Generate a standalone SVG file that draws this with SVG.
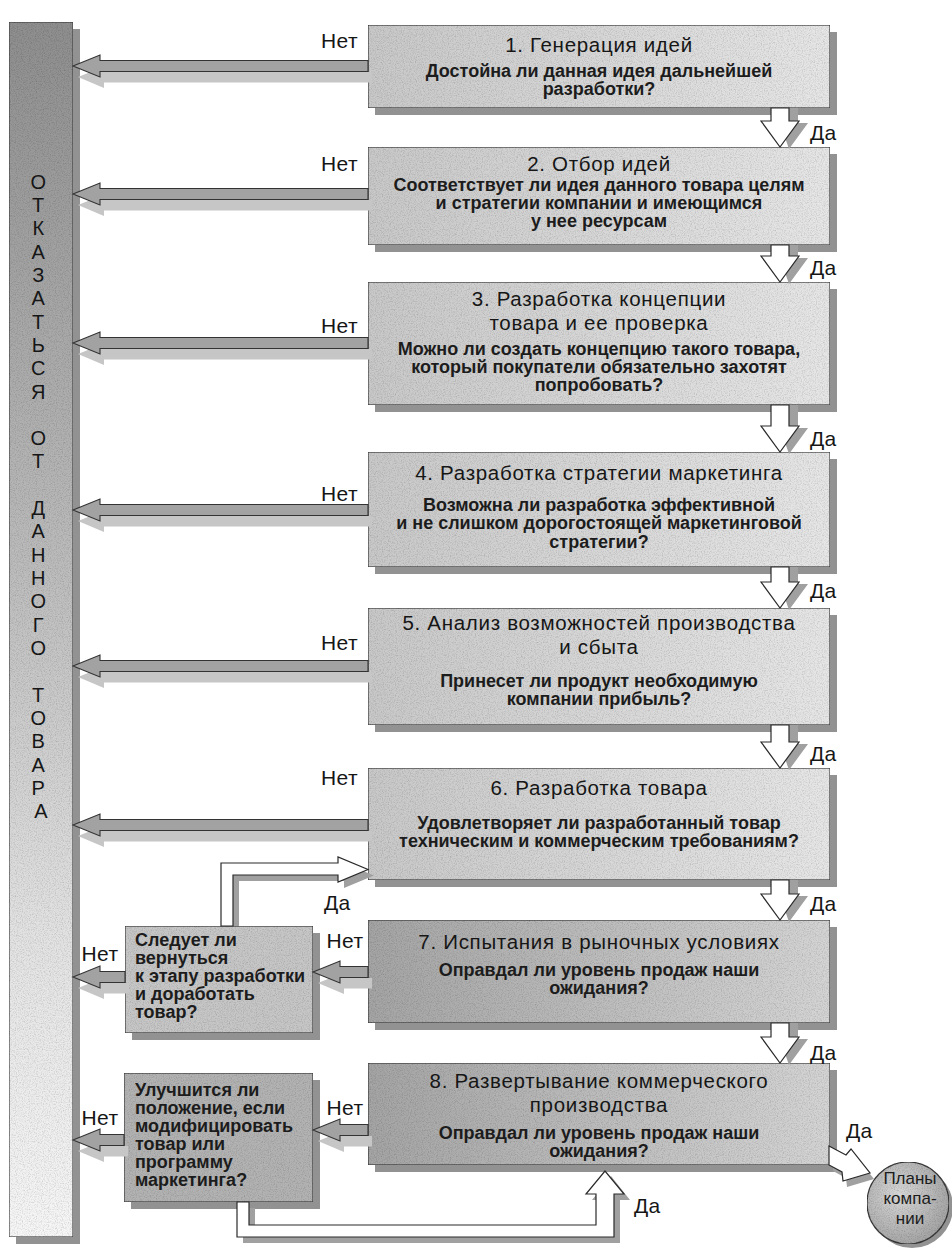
<svg xmlns="http://www.w3.org/2000/svg" width="952" height="1259" viewBox="0 0 952 1259">
  <defs>
    <linearGradient id="barFill" x1="0" y1="0" x2="0" y2="1">
      <stop offset="0" stop-color="#8e8e8e"/>
      <stop offset="0.45" stop-color="#bcbcbc"/>
      <stop offset="0.75" stop-color="#e2e2e2"/>
      <stop offset="1" stop-color="#f6f6f6"/>
    </linearGradient>
    <linearGradient id="boxLight" x1="0" y1="0" x2="1" y2="0">
      <stop offset="0" stop-color="#c8c8c8"/>
      <stop offset="1" stop-color="#e6e6e6"/>
    </linearGradient>
    <linearGradient id="boxDark" x1="0" y1="0" x2="1" y2="0">
      <stop offset="0" stop-color="#a4a4a4"/>
      <stop offset="1" stop-color="#d4d4d4"/>
    </linearGradient>
    <radialGradient id="circleFill" cx="0.4" cy="0.4" r="0.65">
      <stop offset="0" stop-color="#d8d8d8"/>
      <stop offset="1" stop-color="#a2a2a2"/>
    </radialGradient>
    <!-- fine print grain for the shaded fills -->
    <filter id="grain" x="0" y="0" width="100%" height="100%">
      <feTurbulence type="fractalNoise" baseFrequency="0.85" numOctaves="2" seed="4" result="noise"/>
      <feColorMatrix in="noise" type="matrix" values="0 0 0 0 0  0 0 0 0 0  0 0 0 0 0  0.7 0 0 0 -0.3" result="dots"/>
      <feComposite in="dots" in2="SourceAlpha" operator="in" result="dotsIn"/>
      <feMerge>
        <feMergeNode in="SourceGraphic"/>
        <feMergeNode in="dotsIn"/>
      </feMerge>
    </filter>
  </defs>
  <style>
    .shadow { fill: #929292; }
    .box { stroke: #3a3a3a; stroke-width: 1.2; }
    .light { fill: url(#boxLight); }
    .dark { fill: url(#boxDark); }
    .title { font-family: "Liberation Sans", Arial, sans-serif; font-size: 20.5px; letter-spacing: 0.7px; fill: #161616; text-anchor: middle; }
    .body { font-family: "Liberation Sans", Arial, sans-serif; font-size: 18px; font-weight: bold; fill: #1c1c1c; text-anchor: middle; }
    .side { font-family: "Liberation Sans", Arial, sans-serif; font-size: 18px; font-weight: bold; fill: #1c1c1c; }
    .lbl { font-family: "Liberation Sans", Arial, sans-serif; font-size: 21px; letter-spacing: 0.4px; fill: #161616; }
    .bar { font-family: "Liberation Sans", Arial, sans-serif; font-size: 20px; fill: #161616; text-anchor: middle; }
    .circ { font-family: "Liberation Sans", Arial, sans-serif; font-size: 17px; fill: #1c1c1c; text-anchor: middle; }
    .no { fill: #a2a2a2; stroke: #333; stroke-width: 1.1; stroke-linejoin: miter; }
    .noShadow { fill: #c6c6c6; }
    .yes { fill: #ffffff; stroke: #2a2a2a; stroke-width: 1.2; stroke-linejoin: miter; }
    .yesShadow { fill: #a0a0a0; }
  </style>

  <rect width="952" height="1259" fill="#ffffff"/>

  <!-- left column: reject the product -->
  <g id="reject-bar">
    <rect x="16" y="29" width="64" height="1215" class="shadow"/>
    <rect x="9" y="22" width="64" height="1215" fill="url(#barFill)" stroke="#444" stroke-width="1.2" filter="url(#grain)"/>
    <text class="bar">
      <tspan x="41" y="189">О</tspan>
      <tspan x="41" y="212">Т</tspan>
      <tspan x="41" y="235">К</tspan>
      <tspan x="41" y="259">А</tspan>
      <tspan x="41" y="282">З</tspan>
      <tspan x="41" y="305">А</tspan>
      <tspan x="41" y="329">Т</tspan>
      <tspan x="41" y="352">Ь</tspan>
      <tspan x="41" y="375">С</tspan>
      <tspan x="41" y="399">Я</tspan>
      <tspan x="41" y="445">О</tspan>
      <tspan x="41" y="468">Т</tspan>
      <tspan x="41" y="515">Д</tspan>
      <tspan x="41" y="538">А</tspan>
      <tspan x="41" y="562">Н</tspan>
      <tspan x="41" y="585">Н</tspan>
      <tspan x="41" y="608">О</tspan>
      <tspan x="41" y="632">Г</tspan>
      <tspan x="41" y="655">О</tspan>
      <tspan x="41" y="702">Т</tspan>
      <tspan x="41" y="725">О</tspan>
      <tspan x="41" y="748">В</tspan>
      <tspan x="41" y="772">А</tspan>
      <tspan x="41" y="795">Р</tspan>
      <tspan x="41" y="818">А</tspan>
    </text>
  </g>

  <!-- stage boxes -->
  <g id="stage-1">
    <rect x="375" y="32" width="462" height="83" class="shadow"/>
    <rect x="368" y="25" width="462" height="83" class="box light" filter="url(#grain)"/>
    <text class="title" x="599" y="52">1. Генерация идей</text>
    <text class="body"><tspan x="599" y="77">Достойна ли данная идея дальнейшей</tspan><tspan x="599" y="95">разработки?</tspan></text>
  </g>

  <g id="stage-2">
    <rect x="375" y="154" width="462" height="98" class="shadow"/>
    <rect x="368" y="147" width="462" height="98" class="box light" filter="url(#grain)"/>
    <text class="title" x="599" y="171">2. Отбор идей</text>
    <text class="body"><tspan x="599" y="191">Соответствует ли идея данного товара целям</tspan><tspan x="599" y="209">и стратегии компании и имеющимся</tspan><tspan x="599" y="227">у нее ресурсам</tspan></text>
  </g>

  <g id="stage-3">
    <rect x="375" y="289" width="462" height="123" class="shadow"/>
    <rect x="368" y="282" width="462" height="123" class="box light" filter="url(#grain)"/>
    <text class="title"><tspan x="599" y="306">3. Разработка концепции</tspan><tspan x="599" y="330">товара и ее проверка</tspan></text>
    <text class="body"><tspan x="599" y="355">Можно ли создать концепцию такого товара,</tspan><tspan x="599" y="373">который покупатели обязательно захотят</tspan><tspan x="599" y="391">попробовать?</tspan></text>
  </g>

  <g id="stage-4">
    <rect x="375" y="459" width="462" height="115" class="shadow"/>
    <rect x="368" y="452" width="462" height="115" class="box light" filter="url(#grain)"/>
    <text class="title" x="599" y="480">4. Разработка стратегии маркетинга</text>
    <text class="body"><tspan x="599" y="511">Возможна ли разработка эффективной</tspan><tspan x="599" y="529">и не слишком дорогостоящей маркетинговой</tspan><tspan x="599" y="548">стратегии?</tspan></text>
  </g>

  <g id="stage-5">
    <rect x="375" y="615" width="462" height="117" class="shadow"/>
    <rect x="368" y="608" width="462" height="117" class="box light" filter="url(#grain)"/>
    <text class="title"><tspan x="599" y="630">5. Анализ возможностей производства</tspan><tspan x="599" y="654">и сбыта</tspan></text>
    <text class="body"><tspan x="599" y="687">Принесет ли продукт необходимую</tspan><tspan x="599" y="705">компании прибыль?</tspan></text>
  </g>

  <g id="stage-6">
    <rect x="375" y="775" width="462" height="112" class="shadow"/>
    <rect x="368" y="768" width="462" height="112" class="box light" filter="url(#grain)"/>
    <text class="title" x="599" y="795">6. Разработка товара</text>
    <text class="body"><tspan x="599" y="829">Удовлетворяет ли разработанный товар</tspan><tspan x="599" y="847">техническим и коммерческим требованиям?</tspan></text>
  </g>

  <g id="stage-7">
    <rect x="375" y="927" width="462" height="103" class="shadow"/>
    <rect x="368" y="920" width="462" height="103" class="box dark" filter="url(#grain)"/>
    <text class="title" x="599" y="949">7. Испытания в рыночных условиях</text>
    <text class="body"><tspan x="599" y="976">Оправдал ли уровень продаж наши</tspan><tspan x="599" y="994">ожидания?</tspan></text>
  </g>

  <g id="stage-8">
    <rect x="375" y="1070" width="462" height="102" class="shadow"/>
    <rect x="368" y="1063" width="462" height="102" class="box dark" filter="url(#grain)"/>
    <text class="title"><tspan x="599" y="1088">8. Развертывание коммерческого</tspan><tspan x="599" y="1112">производства</tspan></text>
    <text class="body"><tspan x="599" y="1139">Оправдал ли уровень продаж наши</tspan><tspan x="599" y="1157">ожидания?</tspan></text>
  </g>

  <!-- side decisions -->
  <g id="decision-return">
    <rect x="132" y="933" width="188" height="107" class="shadow"/>
    <rect x="125" y="926" width="188" height="107" class="box" fill="#c6c6c6" filter="url(#grain)"/>
    <text class="side">
      <tspan x="135" y="946">Следует ли</tspan>
      <tspan x="135" y="964">вернуться</tspan>
      <tspan x="135" y="982">к этапу разработки</tspan>
      <tspan x="135" y="1000">и доработать</tspan>
      <tspan x="135" y="1018">товар?</tspan>
    </text>
  </g>

  <g id="decision-modify">
    <rect x="131" y="1080" width="189" height="129" class="shadow"/>
    <rect x="124" y="1073" width="189" height="129" class="box" fill="#b2b2b2" filter="url(#grain)"/>
    <text class="side">
      <tspan x="135" y="1096">Улучшится ли</tspan>
      <tspan x="135" y="1114">положение, если</tspan>
      <tspan x="135" y="1132">модифицировать</tspan>
      <tspan x="135" y="1150">товар или</tspan>
      <tspan x="135" y="1168">программу</tspan>
      <tspan x="135" y="1186">маркетинга?</tspan>
    </text>
  </g>

  <!-- connectors -->
  <g id="connectors">
    <!-- "no" arrows into the reject column -->
    <g id="no-arrows">
      <polygon class="noShadow" points="372,72 104,72 104,66.5 78,77 104,88 104,82.5 372,82.5"/>
      <polygon class="no" points="368,60.5 100,60.5 100,55 73,66 100,77 100,71.5 368,71.5"/>

      <polygon class="noShadow" points="372,200 104,200 104,194.5 78,205 104,216 104,210.5 372,210.5"/>
      <polygon class="no" points="368,188.5 100,188.5 100,183 73,194 100,205 100,199.5 368,199.5"/>

      <polygon class="noShadow" points="372,349 104,349 104,343.5 78,354 104,365 104,359.5 372,359.5"/>
      <polygon class="no" points="368,337.5 100,337.5 100,332 73,343 100,354 100,348.5 368,348.5"/>

      <polygon class="noShadow" points="372,516 104,516 104,510.5 78,521 104,532 104,526.5 372,526.5"/>
      <polygon class="no" points="368,504.5 100,504.5 100,499 73,510 100,521 100,515.5 368,515.5"/>

      <polygon class="noShadow" points="372,672 104,672 104,666.5 78,677 104,688 104,682.5 372,682.5"/>
      <polygon class="no" points="368,660.5 100,660.5 100,655 73,666 100,677 100,671.5 368,671.5"/>

      <polygon class="noShadow" points="372,831 104,831 104,825.5 78,836 104,847 104,841.5 372,841.5"/>
      <polygon class="no" points="368,819.5 100,819.5 100,814 73,825 100,836 100,830.5 368,830.5"/>

      <!-- stage 7 -> return decision -> column -->
      <polygon class="noShadow" points="372,978 344,978 344,972.5 318,983 344,994 344,988.5 372,988.5"/>
      <polygon class="no" points="368,966.5 340,966.5 340,961 313,972 340,983 340,977.5 368,977.5"/>
      <polygon class="noShadow" points="129,983 104,983 104,977.5 78,988 104,999 104,993.5 129,993.5"/>
      <polygon class="no" points="125,971.5 100,971.5 100,966 73,977 100,988 100,982.5 125,982.5"/>

      <!-- stage 8 -> modify decision -> column -->
      <polygon class="noShadow" points="372,1136 344,1136 344,1130.5 318,1141 344,1152 344,1146.5 372,1146.5"/>
      <polygon class="no" points="368,1124.5 340,1124.5 340,1119 313,1130 340,1141 340,1135.5 368,1135.5"/>
      <polygon class="noShadow" points="128,1146 104,1146 104,1140.5 78,1151 104,1162 104,1156.5 128,1156.5"/>
      <polygon class="no" points="124,1134.5 100,1134.5 100,1129 73,1140 100,1151 100,1145.5 124,1145.5"/>
    </g>

    <!-- "yes" arrows down the stages -->
    <g id="yes-arrows">
      <polygon class="yesShadow" points="780,108 798,108 798,123 808,123 789,149 780,123"/>
      <polygon class="yes" points="771,108 789,108 789,121 799,121 780,147 761,121 771,121"/>

      <polygon class="yesShadow" points="780,245 798,245 798,258 808,258 789,284 780,258"/>
      <polygon class="yes" points="771,245 789,245 789,256 799,256 780,282 761,256 771,256"/>

      <polygon class="yesShadow" points="780,405 798,405 798,428 808,428 789,454 780,428"/>
      <polygon class="yes" points="771,405 789,405 789,426 799,426 780,452 761,426 771,426"/>

      <polygon class="yesShadow" points="780,567 798,567 798,584 808,584 789,610 780,584"/>
      <polygon class="yes" points="771,567 789,567 789,582 799,582 780,608 761,582 771,582"/>

      <polygon class="yesShadow" points="780,725 798,725 798,744 808,744 789,770 780,744"/>
      <polygon class="yes" points="771,725 789,725 789,742 799,742 780,768 761,742 771,742"/>

      <polygon class="yesShadow" points="780,880 798,880 798,896 808,896 789,922 780,896"/>
      <polygon class="yes" points="771,880 789,880 789,894 799,894 780,920 761,894 771,894"/>

      <polygon class="yesShadow" points="780,1023 798,1023 798,1039 808,1039 789,1065 780,1039"/>
      <polygon class="yes" points="771,1023 789,1023 789,1037 799,1037 780,1063 761,1037 771,1037"/>

      <!-- back to product development -->
      <polygon class="yesShadow" points="227,926 227,869 344,869 344,863 374,875.5 344,888 344,881 239,881 239,926"/>
      <polygon class="yes" points="221,926 221,863 338,863 338,857 368,869.5 338,882 338,875 233,875 233,926"/>

      <!-- modified plan back to commercialisation -->
      <polygon class="yesShadow" points="243,1208 243,1243 620,1243 620,1200 630,1200 611,1176 592,1200 602,1200 602,1231 255,1231 255,1208"/>
      <polygon class="yes" points="237,1202 237,1237 614,1237 614,1194 624,1194 605,1171 586,1194 596,1194 596,1225 249,1225 249,1202"/>

      <!-- stage 8 -> company plans -->
      <polygon class="yesShadow" points="833,1153 849,1161 855,1155 874,1179 847,1187 846,1178 833,1171"/>
      <polygon class="yes" points="829,1146 846,1155 851,1149 870,1173 843,1181 842,1172 829,1165"/>
    </g>

    <!-- labels -->
    <g id="labels">
      <text class="lbl" x="358" y="48" text-anchor="end">Нет</text>
      <text class="lbl" x="358" y="171" text-anchor="end">Нет</text>
      <text class="lbl" x="358" y="333" text-anchor="end">Нет</text>
      <text class="lbl" x="358" y="501" text-anchor="end">Нет</text>
      <text class="lbl" x="358" y="650" text-anchor="end">Нет</text>
      <text class="lbl" x="358" y="785" text-anchor="end">Нет</text>
      <text class="lbl" x="345" y="948" text-anchor="middle">Нет</text>
      <text class="lbl" x="345" y="1115" text-anchor="middle">Нет</text>
      <text class="lbl" x="100" y="961" text-anchor="middle">Нет</text>
      <text class="lbl" x="100" y="1125" text-anchor="middle">Нет</text>

      <text class="lbl" x="810" y="140">Да</text>
      <text class="lbl" x="810" y="275">Да</text>
      <text class="lbl" x="810" y="446">Да</text>
      <text class="lbl" x="810" y="598">Да</text>
      <text class="lbl" x="810" y="761">Да</text>
      <text class="lbl" x="810" y="911">Да</text>
      <text class="lbl" x="810" y="1060">Да</text>
      <text class="lbl" x="846" y="1138">Да</text>
      <text class="lbl" x="324" y="910">Да</text>
      <text class="lbl" x="634" y="1213">Да</text>
    </g>
  </g>

  <!-- outcome -->
  <g id="company-plans">
    <circle cx="912" cy="1207" r="41" fill="#929292"/>
    <circle cx="908" cy="1203" r="41" fill="url(#circleFill)" stroke="#3a3a3a" stroke-width="1.2" filter="url(#grain)"/>
    <text class="circ"><tspan x="910" y="1184">Планы</tspan><tspan x="910" y="1204">компа-</tspan><tspan x="910" y="1224">нии</tspan></text>
  </g>
</svg>
